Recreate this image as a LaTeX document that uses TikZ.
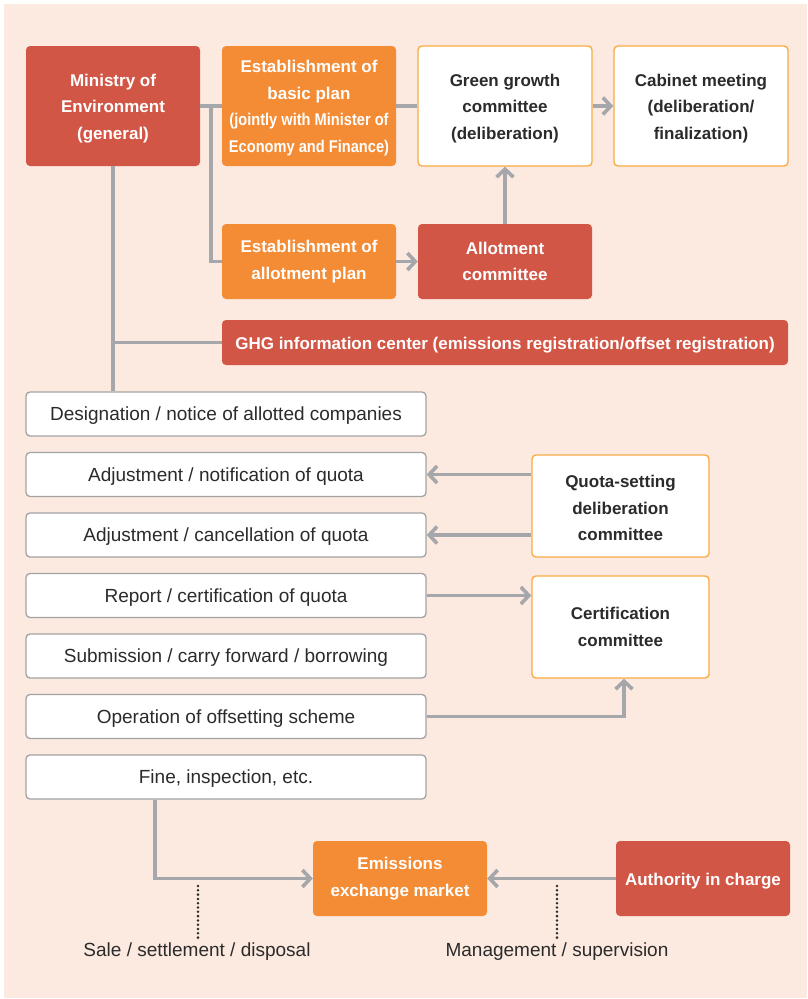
\documentclass[tikz,border=0pt]{standalone}
\usepackage{fontspec}
\setmainfont{Liberation Sans}
\newfontfamily\condfont[FakeStretch=0.86]{Liberation Sans}
\usetikzlibrary{arrows.meta}
\usetikzlibrary{calc}
\definecolor{cRed}{HTML}{D25646}
\definecolor{cOrange}{HTML}{F48C35}
\definecolor{cEdge}{HTML}{F8AC45}
\definecolor{cLine}{HTML}{A5A7AA}
\definecolor{cFrame}{HTML}{A3A3A3}
\definecolor{cBack}{HTML}{FCE9E0}
\definecolor{cText}{HTML}{2B2B2B}
\newcommand{\tallrow}{\rule{0pt}{16.8pt}}
\tikzset{
  box/.style={rounded corners=4pt, align=center, inner sep=0pt, execute at begin node={\rule{0pt}{17.5pt}}},
  redbox/.style={box, fill=cRed, text=white, font=\fontsize{17}{26.5}\selectfont\bfseries},
  orangebox/.style={box, fill=cOrange, text=white, font=\fontsize{17}{26.5}\selectfont\bfseries},
  whitebox/.style={box, fill=white, draw=cEdge, line width=1.4pt, text=cText, font=\fontsize{17}{26.5}\selectfont\bfseries},
  graybox/.style={box, fill=white, draw=cFrame, line width=1.3pt, text=cText, font=\fontsize{19}{22}\selectfont,
    minimum width=400pt, minimum height=44pt},
  link/.style={draw=cLine, line width=3.6pt},
  arrow/.style={link, -{Straight Barb[length=8pt,width=17pt]}},
  dotline/.style={draw=cText, line width=2.8pt, line cap=round, dash pattern=on 0pt off 4.3pt},
  note/.style={text=cText, font=\fontsize{19}{22}\selectfont, inner sep=0pt}
}
\begin{document}
\begin{tikzpicture}[x=1pt, y=-1pt]
		\useasboundingbox (0,0) rectangle (807,999);
		\fill [cBack] (4,4) rectangle (807,998);
		% top row
		\node [redbox, minimum width=174pt, minimum height=120pt] (ministry) at (113,106) {\tallrow Ministry of\\Environment\\(general)};
		\node [orangebox, minimum width=174pt, minimum height=120pt] (basic) at (309,106) {\tallrow Establishment of\\basic plan\\{\condfont (jointly with Minister of}\\{\condfont Economy and Finance)}};
		\node [whitebox, minimum width=174pt, minimum height=120pt] (green) at (505,106) {\tallrow Green growth\\committee\\(deliberation)};
		\node [whitebox, minimum width=174pt, minimum height=120pt] (cabinet) at (701,106) {\tallrow Cabinet meeting\\(deliberation/\\finalization)};
		\node [orangebox, minimum width=174pt, minimum height=75pt] (allotplan) at (309,261.5) {Establishment of\\allotment plan};
		\node [redbox, minimum width=174pt, minimum height=75pt] (allotcom) at (505,261.5) {Allotment\\committee};
		\node [redbox, minimum width=566pt, minimum height=45pt] (ghg) at (505,342.5) {GHG information center (emissions registration/offset registration)};
		% list of steps
		\node [graybox] (designation) at (226,414) {Designation / notice of allotted companies};
		\node [graybox] (notify) at (226,474.5) {Adjustment / notification of quota};
		\node [graybox] (cancel) at (226,535) {Adjustment / cancellation of quota};
		\node [graybox] (report) at (226,595.5) {Report / certification of quota};
		\node [graybox] (submit) at (226,656) {Submission / carry forward / borrowing};
		\node [graybox] (offset) at (226,716.5) {Operation of offsetting scheme};
		\node [graybox] (fine) at (226,777) {Fine, inspection, etc.};
		\node [whitebox, minimum width=177pt, minimum height=102pt] (quota) at (620.5,506) {\tallrow Quota-setting\\deliberation\\committee};
		\node [whitebox, minimum width=177pt, minimum height=102pt] (cert) at (620.5,627) {Certification\\committee};
		% market
		\node [orangebox, minimum width=174pt, minimum height=75pt] (market) at (400,878.5) {Emissions\\exchange market};
		\node [redbox, minimum width=174pt, minimum height=75pt] (authority) at (703,878.5) {Authority in charge};
		\node [note] (sale) at (197,952) {Sale / settlement / disposal};
		\node [note] (manage) at (557,952) {Management / supervision};
		% connectors
		\draw [link] (ministry.east) -- (basic.west);
		\draw [link] ($(ministry.east)!0.5!(basic.west)$) |- (allotplan.west);
		\draw [link] (basic.east) -- (green.west);
		\draw [arrow] (green.east) -- (cabinet.west);
		\draw [arrow] (allotplan.east) -- (allotcom.west);
		\draw [arrow] (allotcom.north) -- (green.south);
		\draw [link] (ministry.south) -- (ministry.south |- designation.north);
		\draw [link] (ministry.south |- ghg.west) -- (ghg.west);
		\draw [arrow] (quota.west |- notify.east) -- (notify.east);
		\draw [arrow] (quota.west |- cancel.east) -- (cancel.east);
		\draw [arrow] (report.east) -- (report.east -| cert.west);
		\draw [arrow] (offset.east) -| ([xshift=3.5pt]cert.south);
		\draw [arrow] ([xshift=-71pt]fine.south) |- (market.west);
		\draw [arrow] (authority.west) -- (market.east);
		\draw [dotline] (198,886) -- (198,938);
		\draw [dotline] (557,886) -- (557,938);
\end{tikzpicture}
\end{document}
